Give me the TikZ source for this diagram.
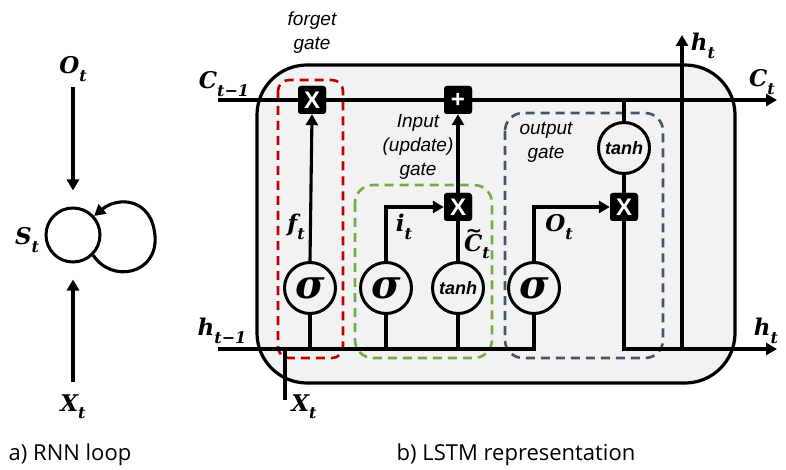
\documentclass[tikz,border=0pt]{standalone}
\usepackage{fontspec}
\setsansfont{Liberation Sans}
\newfontfamily\capfont{Open Sans}
\newfontfamily\lserif{DejaVu Serif}
\newfontfamily\dvsans{DejaVu Sans}
\usetikzlibrary{arrows.meta}
\definecolor{boxgray}{HTML}{F2F2F2}
\definecolor{fgred}{HTML}{C00000}
\definecolor{ingreen}{HTML}{70AD47}
\definecolor{outslate}{HTML}{44546A}
\newcommand\lab[2]{{\lserif\bfseries\itshape\fontsize{23}{26}\selectfont #1\raisebox{-0.32em}{\fontsize{16}{18}\selectfont #2}}}
\newcommand\tlab[2]{{\lserif\bfseries\itshape\fontsize{23}{26}\selectfont\rlap{\raisebox{0.62em}{\hspace{0.06em}{\dvsans\bfseries\upshape\fontsize{20}{20}\selectfont ∼}}}#1\raisebox{-0.32em}{\fontsize{16}{18}\selectfont #2}}}
\begin{document}
\begin{tikzpicture}[x=1pt,y=-1pt,
  line/.style={line width=3.1pt},
  arr/.style={line width=3.1pt, -{Triangle[length=11pt,width=12pt]}},
  gatecirc/.style={circle, draw, line width=3pt, fill=boxgray, minimum size=51pt, inner sep=0pt},
  opbox/.style={rectangle, rounded corners=3pt, fill=black, minimum size=28pt, inner sep=0pt, text=white, font=\sffamily\bfseries\fontsize{24}{24}\selectfont},
  mlab/.style={inner sep=0pt},
  gatetxt/.style={font=\sffamily\itshape\fontsize{19}{24}\selectfont, align=center, inner sep=0pt},
  gatebox/.style={line width=2.6pt, dash pattern=on 9pt off 6pt},
  sig/.style={font=\lserif\bfseries\itshape\fontsize{40}{40}\selectfont},
  tanhtxt/.style={font=\sffamily\bfseries\itshape\fontsize{18}{18}\selectfont},
  caption/.style={font=\capfont\fontsize{22}{24}\selectfont, inner sep=0pt}
]
\useasboundingbox (0,0) rectangle (786,470);

% ---------- a) RNN loop ----------
\node[circle, draw, line width=3pt, minimum size=54pt, inner sep=0pt] (S) at (73,235) {};
\node[mlab] (Ot) at (73,69) {\lab{O}{t}};
\node[mlab] (Xt) at (73,407) {\lab{X}{t}};
\node[mlab] (St) at (27,240) {\lab{S}{t}};
\coordinate (otbot) at (73,87);
\coordinate (xttop) at (73,382);
\draw[arr] (otbot) -- ([yshift=16pt]S.north);
\draw[arr] (xttop) -- ([yshift=-16pt]S.south);
\draw[arr] (S.-45) .. controls (112,284) and (158,274) .. (155,236)
                   .. controls (152,198) and (118,196) .. (S.42);
\node[caption] (capa) at (70,455) {a) RNN loop};

% ---------- b) LSTM ----------
\draw[line width=3.2pt, fill=boxgray, rounded corners=50pt] (257,65) rectangle (735,383);

% gate regions
\draw[gatebox, fgred, rounded corners=11pt] (278,80) rectangle (343,358);
\draw[gatebox, ingreen, rounded corners=18pt] (355,185) rectangle (492,358);
\draw[gatebox, outslate, rounded corners=18pt] (505,113) rectangle (663,358);

% coordinates
\coordinate (cin) at (218,100);
\coordinate (cout) at (777,100);
\coordinate (hin) at (218,349);
\coordinate (hout) at (777,349);
\coordinate (xbot) at (285,400);
\coordinate (xjoin) at (285,349);
\coordinate (hj) at (682,349);
\coordinate (htop) at (682,35);

% nodes
\node[opbox] (fX) at (312,100) {X};
\node[opbox] (plus) at (458,100) {+};
\node[opbox] (iX) at (458,207) {X};
\node[opbox] (oX) at (624,207) {X};
\node[gatecirc, sig] (fS) at (310,288) {σ};
\node[gatecirc, sig] (iS) at (386,288) {σ};
\node[gatecirc, tanhtxt] (tC) at (458,288) {tanh};
\node[gatecirc, sig] (oS) at (534,288) {σ};
\node[gatecirc, tanhtxt] (tO) at (624,148) {tanh};

% lines
\draw[arr] (cin) -- (cout);
\draw[line] (hin) -| (oS.south);
\draw[line] (xbot) -- (xjoin);
\draw[line] (fS.south) -- (fS.south |- hin);
\draw[arr] (fS.north) -- (fX.south);
\draw[line] (iS.south) -- (iS.south |- hin);
\draw[arr] (iS.north) |- (iX.west);
\draw[line] (tC.south) -- (tC.south |- hin);
\draw[line] (tC.north) -- (iX.south);
\draw[arr] (iX.north) -- (plus.south);
\draw[arr] (oS.north) |- (oX.west);
\draw[line] (tO.north) -- (tO.north |- cin);
\draw[line] (tO.south) -- (oX.north);
\draw[arr] (oX.south) |- (hout);
\draw[arr] (hj) -- (htop);

% redraw operator boxes on top
\node[opbox] at (fX) {X};
\node[opbox] at (plus) {+};
\node[opbox] at (iX) {X};
\node[opbox] at (oX) {X};

% labels
\node[mlab] (lc1) at (224,84) {\lab{C}{t−1}};
\node[mlab] (lct) at (762,82) {\lab{C}{t}};
\node[mlab] (lht) at (703,46) {\lab{h}{t}};
\node[mlab] (lhr) at (766,331) {\lab{h}{t}};
\node[mlab] (lh1) at (222,331) {\lab{h}{t−1}};
\node[mlab] (lxt) at (304,407) {\lab{X}{t}};
\node[mlab] (lft) at (296,227) {\lab{f}{t}};
\node[mlab] (lit) at (404,227) {\lab{i}{t}};
\node[mlab] (lcl) at (477,244) {\tlab{C}{t}};
\node[mlab] (lot) at (559,227) {\lab{O}{t}};

\node[gatetxt] (tf) at (312,33) {forget\\gate};
\node[gatetxt] (ti) at (418,147) {Input\\(update)\\gate};
\node[gatetxt] (to) at (546,142) {output\\gate};

\node[caption] (capb) at (516,455) {b) LSTM representation};
\end{tikzpicture}
\end{document}
